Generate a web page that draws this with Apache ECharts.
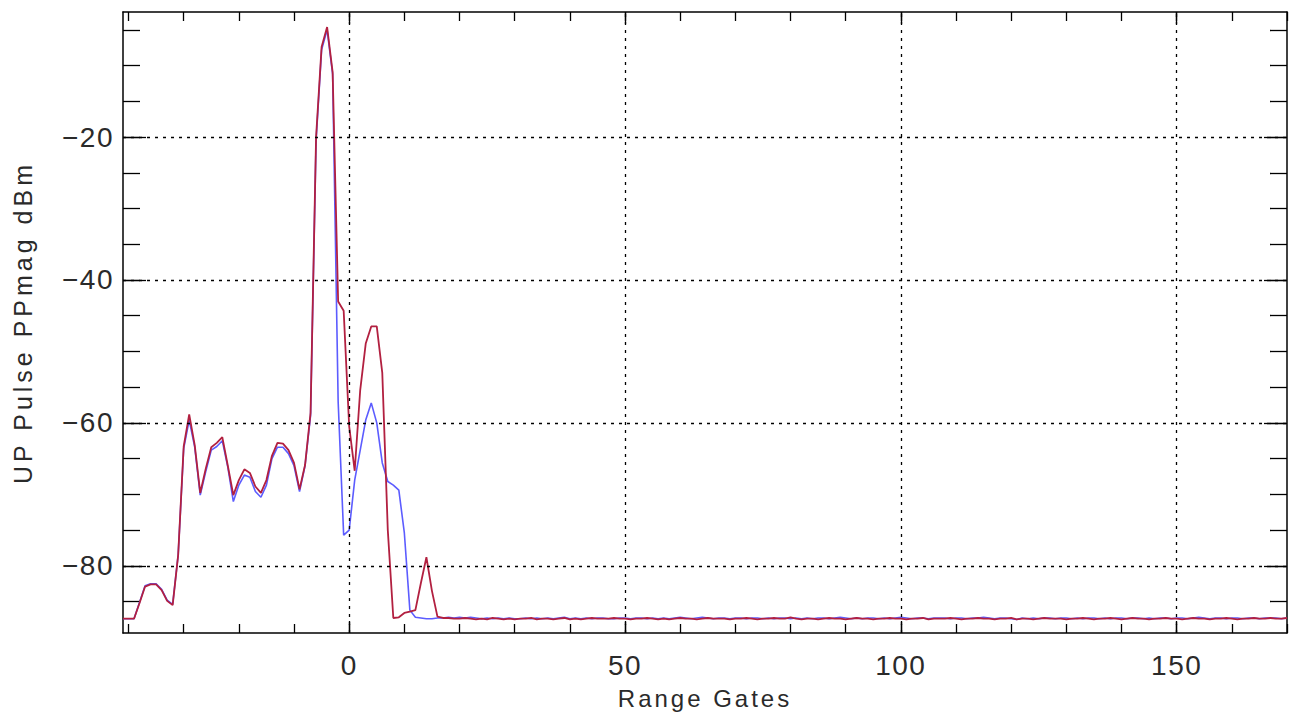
<!DOCTYPE html>
<html>
<head>
<meta charset="utf-8">
<script src="https://cdn.jsdelivr.net/npm/echarts@6/dist/echarts.min.js"></script>
<style>
  html, body { margin: 0; padding: 0; background: #fff; }
  #chart { width: 1295px; height: 719px; }
  #chart text { letter-spacing: 2px; }
  #chart text[style*="28px"] { letter-spacing: 1.5px; }
  #chart text[style*="24px"] { letter-spacing: 3px; }
  #chart text[style*="25px"] { letter-spacing: 4px; }
</style>
</head>
<body>
<div id="chart"></div>
<script>
// Range gate numbering starts here (one sample per gate)
const gateStart = -41;
const gateEnd = 170;

// Red trace, gates -41 .. 17
const redHead = [
  -87.4, -87.4, -87.4, -85.2, -82.9, -82.6, -82.6, -83.4, -84.9, -85.5,
  -78.5, -63.3, -58.8, -63.1, -69.8, -66.4, -63.4, -62.8, -62.0, -66.0,
  -70.1, -68.0, -66.5, -67.0, -68.9, -69.8, -68.0, -64.6, -62.8, -62.9,
  -63.8, -65.6, -69.3, -65.9, -58.6, -20.0, -7.4, -4.6, -10.9, -43.0,
  -44.3, -60.5, -66.7, -55.4, -48.9, -46.5, -46.5, -53.0, -75.0, -87.3,
  -87.2, -86.6, -86.4, -86.2, -82.4, -78.8, -83.5, -87.1, -87.3
];
// Red trace, gates 18 .. 170
const redTail = [
  -87.3,-87.4,-87.4,-87.3,-87.4,-87.5,-87.4,-87.5,-87.3,-87.4,
  -87.5,-87.4,-87.5,-87.4,-87.4,-87.3,-87.5,-87.4,-87.4,-87.5,
  -87.4,-87.3,-87.5,-87.4,-87.5,-87.4,-87.3,-87.4,-87.4,-87.4,
  -87.3,-87.4,-87.4,-87.5,-87.4,-87.4,-87.3,-87.4,-87.5,-87.4,
  -87.5,-87.4,-87.3,-87.4,-87.4,-87.5,-87.4,-87.3,-87.4,-87.4,
  -87.4,-87.5,-87.4,-87.4,-87.3,-87.4,-87.5,-87.4,-87.4,-87.3,
  -87.4,-87.4,-87.2,-87.4,-87.5,-87.4,-87.4,-87.5,-87.4,-87.3,
  -87.4,-87.4,-87.5,-87.4,-87.3,-87.4,-87.4,-87.5,-87.4,-87.4,
  -87.3,-87.4,-87.4,-87.5,-87.4,-87.4,-87.3,-87.5,-87.4,-87.4,
  -87.4,-87.3,-87.4,-87.5,-87.4,-87.4,-87.3,-87.4,-87.4,-87.5,
  -87.4,-87.4,-87.3,-87.5,-87.4,-87.4,-87.5,-87.4,-87.3,-87.4,
  -87.4,-87.4,-87.5,-87.4,-87.4,-87.3,-87.4,-87.5,-87.4,-87.4,
  -87.3,-87.4,-87.5,-87.4,-87.3,-87.4,-87.4,-87.5,-87.4,-87.4,
  -87.3,-87.4,-87.4,-87.5,-87.4,-87.3,-87.4,-87.4,-87.5,-87.4,
  -87.4,-87.3,-87.4,-87.5,-87.4,-87.4,-87.3,-87.4,-87.4,-87.3,
  -87.4,-87.4,-87.3
];

// Blue trace, gates -41 .. 17
const blueHead = [
  -87.4, -87.4, -87.4, -85.1, -82.8, -82.5, -82.5, -83.3, -84.8, -85.4,
  -78.5, -63.6, -59.6, -63.4, -70.1, -66.8, -63.8, -63.3, -62.5, -66.2,
  -71.0, -68.7, -67.3, -67.6, -69.6, -70.4, -68.7, -65.0, -63.4, -63.4,
  -64.3, -66.0, -69.6, -66.0, -59.0, -20.5, -7.8, -5.0, -11.2, -57.0,
  -75.7, -75.0, -68.0, -63.8, -59.6, -57.2, -60.0, -65.6, -68.2, -68.7,
  -69.4, -75.4, -86.2, -87.2, -87.3, -87.4, -87.4, -87.3, -87.3
];
// Blue trace, gates 18 .. 170
const blueTail = [
  -87.2,-87.3,-87.2,-87.3,-87.2,-87.3,-87.4,-87.3,-87.4,-87.3,
  -87.4,-87.3,-87.4,-87.4,-87.3,-87.4,-87.3,-87.4,-87.3,-87.4,
  -87.3,-87.2,-87.4,-87.3,-87.4,-87.3,-87.4,-87.3,-87.3,-87.4,
  -87.4,-87.3,-87.3,-87.4,-87.3,-87.3,-87.4,-87.3,-87.4,-87.3,
  -87.4,-87.3,-87.2,-87.3,-87.4,-87.3,-87.2,-87.3,-87.4,-87.3,
  -87.3,-87.4,-87.3,-87.3,-87.4,-87.3,-87.3,-87.4,-87.3,-87.4,
  -87.3,-87.3,-87.4,-87.3,-87.4,-87.3,-87.4,-87.3,-87.3,-87.4,
  -87.3,-87.2,-87.3,-87.4,-87.3,-87.4,-87.3,-87.3,-87.4,-87.3,
  -87.4,-87.3,-87.2,-87.3,-87.4,-87.3,-87.3,-87.4,-87.3,-87.3,
  -87.3,-87.4,-87.3,-87.3,-87.4,-87.3,-87.3,-87.2,-87.3,-87.4,
  -87.3,-87.3,-87.4,-87.5,-87.3,-87.4,-87.3,-87.4,-87.3,-87.3,
  -87.4,-87.3,-87.3,-87.4,-87.3,-87.4,-87.3,-87.3,-87.4,-87.3,
  -87.4,-87.3,-87.3,-87.4,-87.3,-87.3,-87.4,-87.3,-87.4,-87.3,
  -87.3,-87.4,-87.3,-87.3,-87.4,-87.3,-87.2,-87.3,-87.4,-87.3,
  -87.3,-87.4,-87.3,-87.3,-87.4,-87.3,-87.3,-87.4,-87.3,-87.3,
  -87.3,-87.4,-87.3
];

// Axis ticks / labels
const xLabelTicks = [0, 50, 100, 150];
const xMinorTicks = [-40, -30, -20, -10, 0, 10, 20, 30, 40, 50, 60, 70, 80, 90, 100, 110, 120, 130, 140, 150, 160, 170];
const yLabelTicks = [-80, -60, -40, -20];
const yMinorTicks = [-85, -80, -75, -70, -65, -60, -55, -50, -45, -40, -35, -30, -25, -20, -15, -10, -5];
const xRange = [-41, 170];
const yRange = [-89.4, -2.5];

const redVals = redHead.concat(redTail);
const blueVals = blueHead.concat(blueTail);
const gates = [];
for (let g = gateStart; g <= gateEnd; g++) gates.push(g);
const redData = gates.map((g, i) => [g, redVals[i]]);
const blueData = gates.map((g, i) => [g, blueVals[i]]);

const FONT = 'Liberation Sans, Arial, sans-serif';
const ink = '#000';
const txt = '#2a2a2a';
const minusFmt = v => String(v).replace('-', '\u2212');

function xAx(pos, len, vals, showLine, extra) {
  return Object.assign({
    type: 'value', position: pos, min: xRange[0], max: xRange[1],
    axisLine: { show: showLine, onZero: false, lineStyle: { color: ink, width: 1.5 } },
    axisTick: { show: true, inside: true, length: len, customValues: vals, lineStyle: { color: ink, width: 1.3 } },
    axisLabel: { show: false },
    splitLine: { show: false }
  }, extra || {});
}
function yAx(pos, len, vals, showLine, extra) {
  return Object.assign({
    type: 'value', position: pos, min: yRange[0], max: yRange[1],
    axisLine: { show: showLine, onZero: false, lineStyle: { color: ink, width: 1.5 } },
    axisTick: { show: true, inside: true, length: len, customValues: vals, lineStyle: { color: ink, width: 1.3 } },
    axisLabel: { show: false },
    splitLine: { show: false }
  }, extra || {});
}

const chart = echarts.init(document.getElementById('chart'), null, { renderer: 'svg' });
chart.setOption({
  animation: false,
  backgroundColor: '#fff',
  grid: { left: 123, right: 8, top: 12, bottom: 86, containLabel: false },
  xAxis: [
    xAx('bottom', 9, xMinorTicks, true, {
      name: 'Range Gates', nameLocation: 'middle', nameGap: 53,
      nameTextStyle: { fontFamily: FONT, fontSize: 24, color: txt },
      axisLabel: { show: true, customValues: xLabelTicks, margin: 18, fontFamily: FONT, fontSize: 28, color: txt, formatter: minusFmt }
    }),
    xAx('bottom', 12, xLabelTicks, false),
    xAx('top', 9, xMinorTicks, true),
    xAx('top', 12, xLabelTicks, false)
  ],
  yAxis: [
    yAx('left', 17, yMinorTicks, true, {
      name: 'UP Pulse PPmag dBm', nameLocation: 'middle', nameGap: 88,
      nameTextStyle: { fontFamily: FONT, fontSize: 25, color: txt },
      axisLabel: { show: true, customValues: yLabelTicks, margin: 9, fontFamily: FONT, fontSize: 28, color: txt, formatter: minusFmt }
    }),
    yAx('left', 23, yLabelTicks, false),
    yAx('right', 17, yMinorTicks, true),
    yAx('right', 23, yLabelTicks, false)
  ],
  series: [
    {
      name: 'blue', type: 'line', xAxisIndex: 0, yAxisIndex: 0,
      data: blueData, showSymbol: false, symbol: 'none',
      lineStyle: { color: '#5c5cff', width: 1.6 },
      z: 3,
      markLine: {
        silent: true, symbol: 'none', animation: false,
        label: { show: false },
        lineStyle: { color: '#000', type: [3, 5], width: 1.3 },
        data: xLabelTicks.map(v => ({ xAxis: v })).concat(yLabelTicks.map(v => ({ yAxis: v })))
      }
    },
    {
      name: 'red', type: 'line', xAxisIndex: 0, yAxisIndex: 0,
      data: redData, showSymbol: false, symbol: 'none',
      lineStyle: { color: '#b22040', width: 1.8 },
      z: 4
    }
  ]
});
</script>
</body>
</html>
